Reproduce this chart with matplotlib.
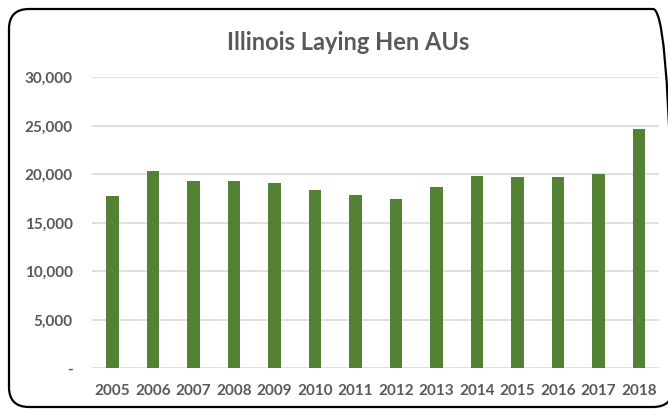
import matplotlib
matplotlib.use("Agg")
import matplotlib.pyplot as plt
from matplotlib.patches import FancyBboxPatch
from matplotlib.ticker import FuncFormatter

years = ["2005", "2006", "2007", "2008", "2009", "2010", "2011",
         "2012", "2013", "2014", "2015", "2016", "2017", "2018"]
hen_aus = [17800, 20300, 19300, 19300, 19100, 18400, 17900,
           17500, 18700, 19800, 19700, 19700, 20000, 24700]
yticks = [0, 5000, 10000, 15000, 20000, 25000, 30000]

txt = "#595959"
plt.rcParams["font.family"] = ["Lato", "DejaVu Sans"]

fig = plt.figure(figsize=(6.68, 4.09), dpi=100)
ax = fig.add_axes([0.1381, 0.0995, 0.8488, 0.7115])

x = range(len(years))
ax.bar(x, hen_aus, width=0.32, color="#548235", zorder=3)

ax.set_xlim(-0.5, len(years) - 0.5)
ax.set_ylim(0, 30000)
ax.set_yticks(yticks)
ax.yaxis.set_major_formatter(FuncFormatter(lambda v, p: "-" if v == 0 else "{:,.0f}".format(v)))
ax.set_xticks(list(x))
ax.set_xticklabels(years)

ax.grid(axis="y", color="#d9d9d9", linewidth=1.2, zorder=0)
for s in ax.spines.values():
    s.set_visible(False)
ax.tick_params(axis="both", length=0, labelsize=11, labelcolor=txt)
ax.tick_params(axis="y", pad=14)
ax.tick_params(axis="x", pad=11)
for lab in ax.get_xticklabels() + ax.get_yticklabels():
    lab.set_fontweight("bold")

fig.text(0.5205, 0.895, "Illinois Laying Hen AUs", ha="center", va="center",
         fontsize=17, fontweight="bold", color=txt)

# rounded chart frame, right side runs off the picture
frame = FancyBboxPatch((0.09, 0.02), 6.64, 3.98, boxstyle="round,pad=0,rounding_size=0.2",
                       transform=fig.dpi_scale_trans, facecolor="none",
                       edgecolor="black", linewidth=1.6, clip_on=False)
fig.add_artist(frame)

fig.savefig("out.png", dpi=100)
